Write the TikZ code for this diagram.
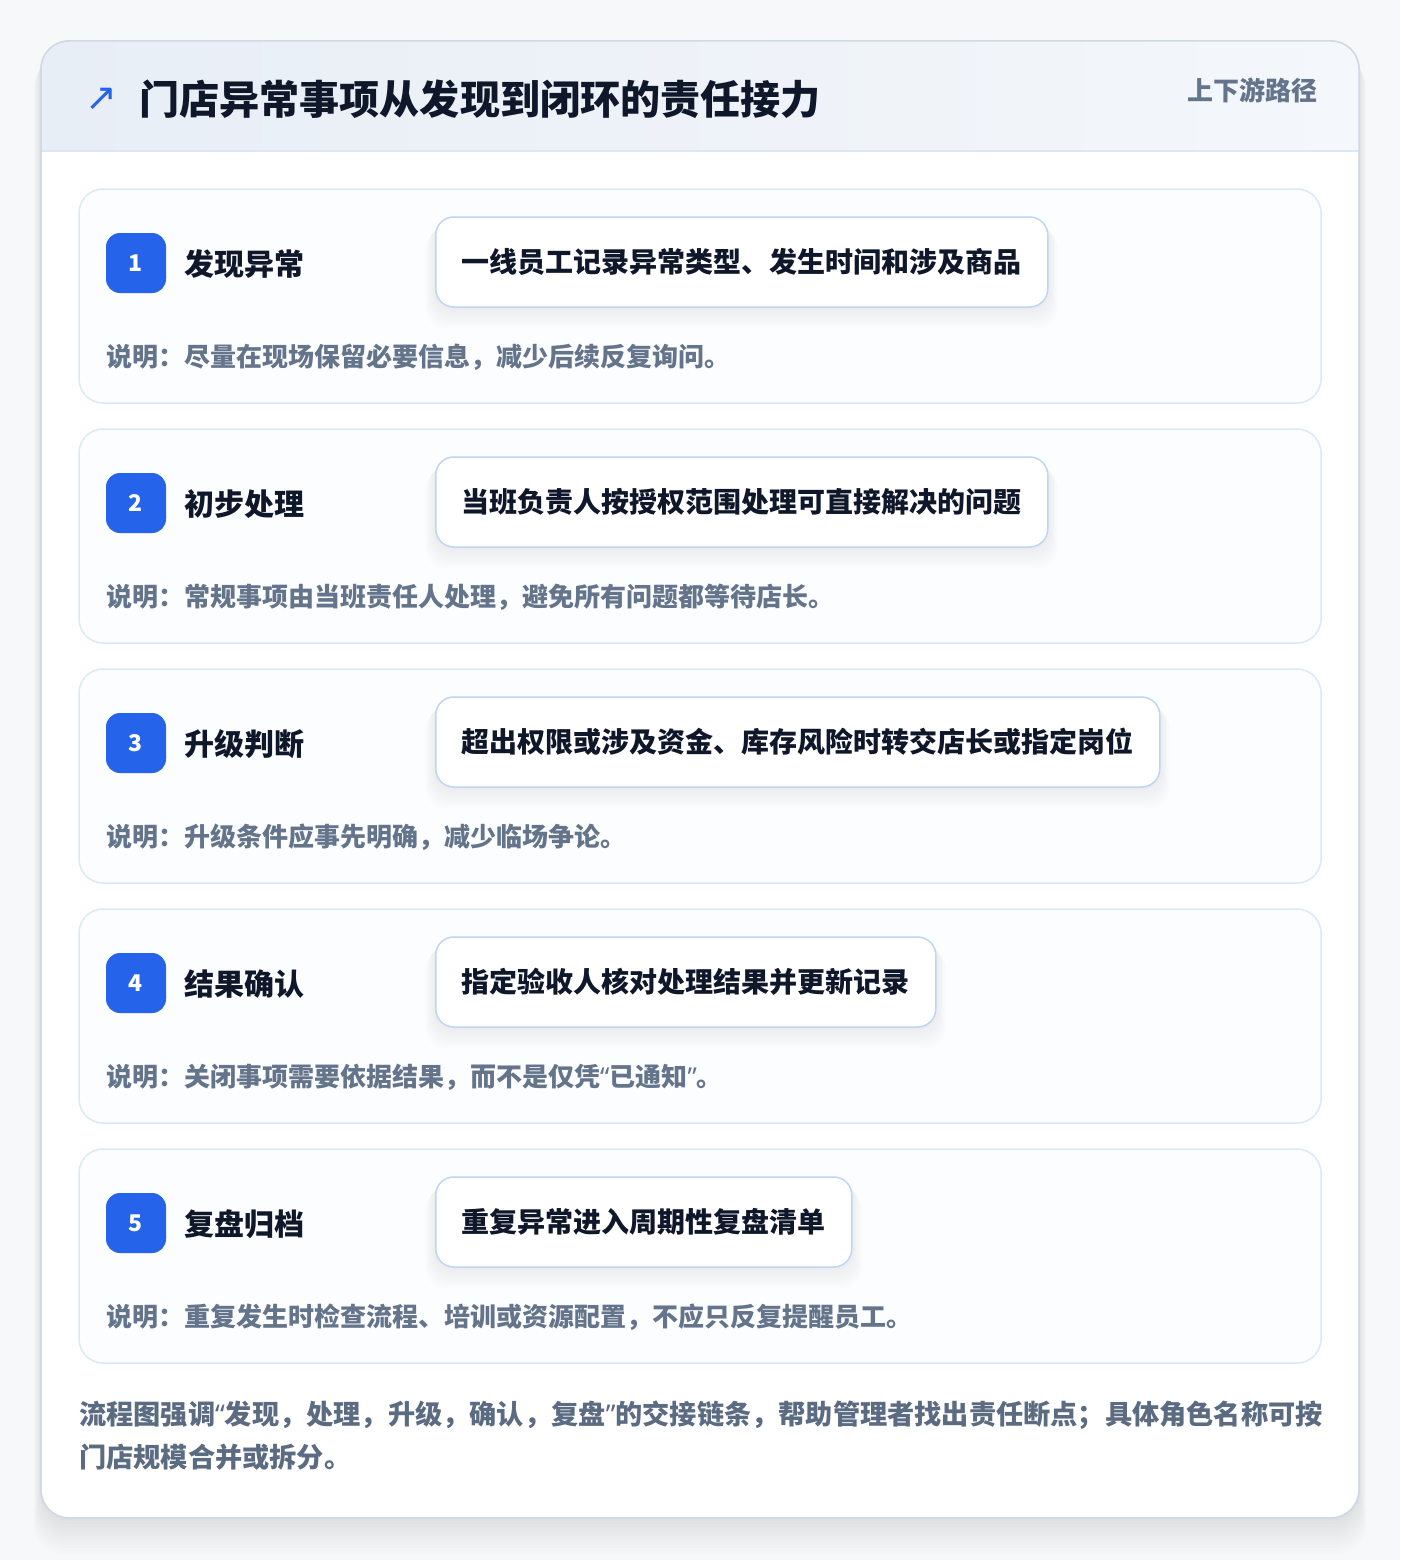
\documentclass[tikz,border=0pt]{standalone}
\usepackage{fontspec}
\setmainfont{Noto Sans CJK SC}
\newfontfamily\symfont{DejaVu Sans}
\newfontfamily\latq{Noto Sans}
\newcommand{\qopen}{{\latq “}}
\newcommand{\qclose}{{\latq ”}}
\usetikzlibrary{calc}
\pgfdeclarelayer{shad}
\pgfdeclarelayer{front}
\pgfsetlayers{main,shad,front}
\definecolor{pagebg}{HTML}{F7F8FA}
\definecolor{cardline}{HTML}{D0D9E6}
\definecolor{headL}{HTML}{E8EEF6}
\definecolor{headR}{HTML}{F4F7FB}
\definecolor{headline}{HTML}{DCE7F4}
\definecolor{stepline}{HTML}{DCE8F6}
\definecolor{stepfill}{HTML}{FCFDFF}
\definecolor{actline}{HTML}{BFD5F2}
\definecolor{badgeblue}{HTML}{2563EB}
\definecolor{ink}{HTML}{0F172A}
\definecolor{muted}{HTML}{64748B}
\definecolor{footink}{HTML}{5B6B82}
\tikzset{
  stepcard/.style={draw=stepline, line width=1.5pt, fill=stepfill, rounded corners=24},
  badge/.style={fill=badgeblue, rounded corners=14, minimum width=60pt, minimum height=60pt, inner sep=0pt, text=white, font=\bfseries\fontsize{23}{26}\selectfont},
  steptitle/.style={anchor=west, inner sep=0pt, text=ink, font=\bfseries\fontsize{30}{36}\selectfont},
  actbox/.style={anchor=west, draw=actline, line width=1.5pt, fill=white, rounded corners=18, inner xsep=26pt, minimum height=90pt, text=ink, font=\bfseries\fontsize{28}{32}\selectfont},
  notetext/.style={anchor=west, inner sep=0pt, text=muted, font=\bfseries\fontsize{26}{30}\selectfont},
  foottext/.style={anchor=west, inner sep=0pt, text=footink, font=\bfseries\fontsize{27.2}{32}\selectfont},
}
\begin{document}
\begin{tikzpicture}[x=1pt,y=-1pt]
\useasboundingbox (0,0) rectangle (1400,1560);
\fill[pagebg] (0,0) rectangle (1400,1560);
% card shadow
\foreach \i in {1,...,12}{
  \fill[black, opacity=0.008, rounded corners=30] (41-\i*0.6,41+\i*1.5) rectangle (1359+\i*0.6,1518+\i*3);
}
\node[draw=cardline, line width=1.5pt, fill=white, rounded corners=28, minimum width=1318pt, minimum height=1477pt, inner sep=0pt] (card) at (700,779.5) {};
\begin{scope}
  \clip[rounded corners=28] (41,41) rectangle (1359,1518);
  \shade[left color=headL, right color=headR] (41,41) rectangle (1359,151);
\end{scope}
\draw[headline, line width=1.5pt] (41,151) -- (1359,151);
\draw[cardline, line width=1.5pt, rounded corners=28] (41,41) rectangle (1359,1518);
% header
\node[inner sep=0pt, text=badgeblue, font=\symfont\fontsize{38}{40}\selectfont] (icon) at (101,99) {↗};
\node[anchor=west, inner sep=0pt, text=ink, font=\bfseries\fontsize{40.1}{46}\selectfont] (title) at (139,99) {门店异常事项从发现到闭环的责任接力};
\node[anchor=east, inner sep=0pt, text=muted, font=\bfseries\fontsize{26}{30}\selectfont] (tag) at (1318,90) {上下游路径};
% steps
\foreach \k/\name/\act/\note in {
  1/发现异常/一线员工记录异常类型、发生时间和涉及商品/说明：尽量在现场保留必要信息，减少后续反复询问。,
  2/初步处理/当班负责人按授权范围处理可直接解决的问题/说明：常规事项由当班责任人处理，避免所有问题都等待店长。,
  3/升级判断/超出权限或涉及资金、库存风险时转交店长或指定岗位/说明：升级条件应事先明确，减少临场争论。,
  4/结果确认/指定验收人核对处理结果并更新记录/说明：关闭事项需要依据结果，而不是仅凭\qopen 已通知\qclose 。,
  5/复盘归档/重复异常进入周期性复盘清单/说明：重复发生时检查流程、培训或资源配置，不应只反复提醒员工。}{
  \pgfmathsetmacro{\top}{189+240*(\k-1)}
  \node[stepcard, minimum width=1242pt, minimum height=214pt, inner sep=0pt] (card\k) at (700,\top+107) {};
  \node[badge] (badge\k) at (136,\top+74) {\k};
  \node[steptitle] (title\k) at (184,\top+75) {\name};
  \begin{pgfonlayer}{front}
    \node[actbox] (act\k) at (435,\top+73) {\act};
  \end{pgfonlayer}
  \begin{pgfonlayer}{shad}
    \foreach \j in {1,...,8}{
      \fill[black, opacity=0.007, rounded corners=20] ($(act\k.north west)+(-\j*1.2,\j*1.6)$) rectangle ($(act\k.south east)+(\j*1.2,\j*2.6)$);
    }
  \end{pgfonlayer}
  \node[notetext] (note\k) at (106,\top+168) {\note};
}
% footer
\node[foottext] (foot1) at (79,1415) {流程图强调\qopen 发现，处理，升级，确认，复盘\qclose 的交接链条，帮助管理者找出责任断点；具体角色名称可按};
\node[foottext] (foot2) at (79,1457) {门店规模合并或拆分。};
\end{tikzpicture}
\end{document}
